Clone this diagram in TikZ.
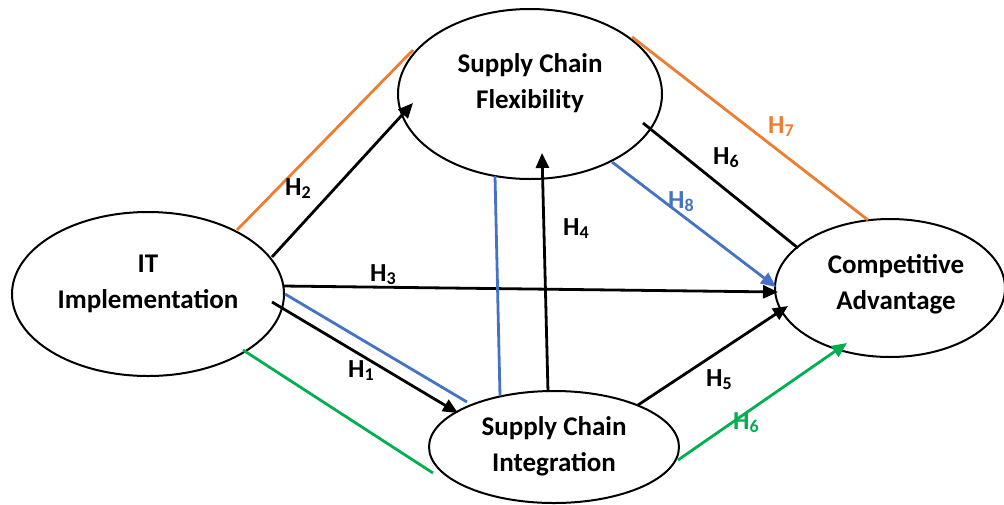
\documentclass[tikz,border=0pt]{standalone}
\usepackage{fontspec}
\setmainfont{Carlito}
\usetikzlibrary{arrows.meta,shapes.geometric}
\definecolor{hOrange}{RGB}{237,125,49}
\definecolor{hBlue}{RGB}{68,114,196}
\definecolor{hGreen}{RGB}{0,176,80}
% hypothesis label with a lowered index
\newcommand\hyp[1]{H\raisebox{-3pt}{\fontsize{18}{18}\selectfont #1}}

\begin{document}
\begin{tikzpicture}[x=1pt,y=-1pt,
  construct/.style={draw,ellipse,line width=2pt,inner sep=0pt,fill=white},
  ctext/.style={font=\fontsize{27}{36}\selectfont\bfseries,align=center,inner sep=0pt},
  hlabel/.style={font=\fontsize{26}{26}\selectfont\bfseries,inner sep=0pt,anchor=base west},
  link/.style={line width=2.8pt},
  arrowlink/.style={link,-{Triangle[length=15pt,width=13pt]}}
]
\useasboundingbox (0,0) rectangle (1004,504);

% constructs
\node[construct,minimum width=272pt,minimum height=164pt] (it)  at (148,294) {};
\node[construct,minimum width=264pt,minimum height=170pt] (scf) at (530,94)  {};
\node[construct,minimum width=230pt,minimum height=138pt] (ca)  at (890,288) {};
\node[construct,minimum width=250pt,minimum height=112pt] (sci) at (554,447) {};

\node[ctext] (itT)  at (148,284)   {IT\\Implementation};
\node[ctext] (scfT) at (530,83)    {Supply Chain\\Flexibility};
\node[ctext] (caT)  at (896,284.5) {Competitive\\Advantage};
\node[ctext] (sciT) at (554,446)   {Supply Chain\\Integration};

% connector end points
\coordinate (oA) at (237,230);  \coordinate (oB) at (413,50);
\coordinate (h2A) at (272,257); \coordinate (h2B) at (413,103);
\coordinate (h3A) at (283,286); \coordinate (h3B) at (778,292);
\coordinate (bA) at (285,294);  \coordinate (bB) at (467,402);
\coordinate (h1A) at (272,302); \coordinate (h1B) at (458,413);
\coordinate (gA) at (243,350);  \coordinate (gB) at (433,473);
\coordinate (vA) at (495,176);  \coordinate (vB) at (500,396);
\coordinate (h4A) at (548,392); \coordinate (h4B) at (542,153);
\coordinate (h8A) at (612,162); \coordinate (h8B) at (776,287);
\coordinate (h6A) at (643,123); \coordinate (h6B) at (798,248);
\coordinate (h7A) at (632,37);  \coordinate (h7B) at (868,220);
\coordinate (h5A) at (638,405); \coordinate (h5B) at (788,306);
\coordinate (g6A) at (678,460); \coordinate (g6B) at (847,343);

% paths
\draw[link,hOrange] (oA) -- (oB);
\draw[arrowlink] (h2A) -- (h2B);
\draw[arrowlink] (h3A) -- (h3B);
\draw[link,hBlue] (bA) -- (bB);
\draw[arrowlink] (h1A) -- (h1B);
\draw[link,hGreen] (gA) -- (gB);
\draw[link,hBlue] (vA) -- (vB);
\draw[arrowlink] (h4A) -- (h4B);
\draw[arrowlink,hBlue] (h8A) -- (h8B);
\draw[link] (h6A) -- (h6B);
\draw[link,hOrange] (h7A) -- (h7B);
\draw[arrowlink] (h5A) -- (h5B);
\draw[arrowlink,hGreen] (g6A) -- (g6B);

% hypothesis labels
\node[hlabel] (l2) at (285,195) {\hyp{2}};
\node[hlabel] (l3) at (370,281) {\hyp{3}};
\node[hlabel] (l4) at (563,235) {\hyp{4}};
\node[hlabel,text=hBlue] (l8) at (668,208) {\hyp{8}};
\node[hlabel,text=hOrange] (l7) at (768,133) {\hyp{7}};
\node[hlabel] (l6) at (713,164) {\hyp{6}};
\node[hlabel] (l5) at (706,386) {\hyp{5}};
\node[hlabel,text=hGreen] (l6g) at (733,429) {\hyp{6}};
\node[hlabel] (l1) at (348,377) {\hyp{1}};
\end{tikzpicture}
\end{document}
